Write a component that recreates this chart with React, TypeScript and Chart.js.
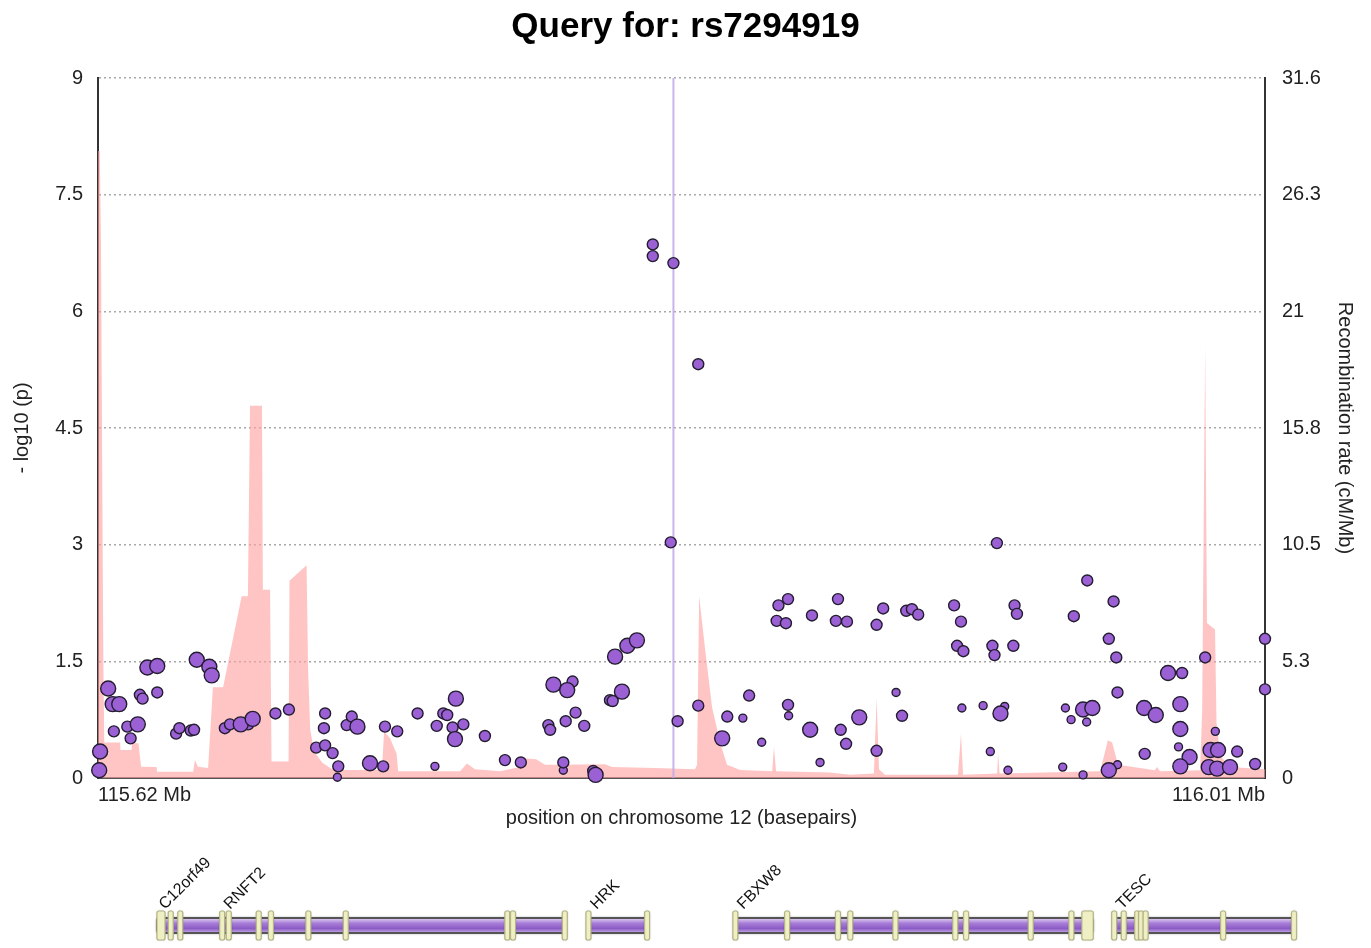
import React, { useEffect, useRef } from "react";
import { Chart, registerables } from "chart.js";

Chart.register(...registerables);

const FONT = "'Liberation Sans', Arial, sans-serif";

// ---- Axis / tick data ----
const xTickValues = [115.62, 116.01];
const xTickLabels = ["115.62 Mb", "116.01 Mb"];
const recombTickValues = [0, 5.2667, 10.5333, 15.8, 21.0667, 26.3333, 31.6];
const recombTickLabels = ["0", "5.3", "10.5", "15.8", "21", "26.3", "31.6"];
const querySnpName = "rs7294919";
const querySnpPos = 115.8123;

// ---- SNPs (position in Mb, -log10 p) grouped by marker size ----
const largeSnpPos = [
  115.6204, 115.6207, 115.6234, 115.6249, 115.6271, 115.6333, 115.6365, 115.6398, 115.653, 115.6572,
  115.658, 115.6677, 115.6717, 115.7067, 115.7109, 115.7393, 115.7396, 115.7722, 115.7768, 115.7863,
  115.7951, 115.7928, 115.7969, 115.8001, 115.8286, 115.858, 115.8744, 115.9216, 115.9492, 115.9523,
  115.9578, 115.9696, 115.9735, 115.9776, 115.9817, 115.9817, 115.9848, 115.9817, 115.9918, 115.9943,
  115.9912, 115.994, 115.9983,
];
const largeSnpLogP = [
  0.1, 0.34, 1.15, 0.95, 0.95, 0.69, 1.42, 1.44, 1.52, 1.43,
  1.32, 0.69, 0.76, 0.66, 0.19, 0.5, 1.02, 1.2, 1.13, 0.04,
  1.11, 1.56, 1.7, 1.77, 0.51, 0.62, 0.78, 0.83, 0.88, 0.9,
  0.1, 0.9, 0.81, 1.35, 0.95, 0.63, 0.27, 0.15, 0.36, 0.36,
  0.14, 0.12, 0.14,
];
const mediumSnpPos = [
  115.6253, 115.6298, 115.6309, 115.634, 115.6349, 115.6398, 115.6461, 115.6472, 115.651, 115.6521,
  115.6624, 115.6641, 115.6702, 115.6793, 115.6838, 115.6959, 115.6955, 115.6929, 115.6959, 115.6984,
  115.7003, 115.7031, 115.7048, 115.7153, 115.7159, 115.72, 115.7268, 115.7332, 115.7354, 115.7367,
  115.7385, 115.7421, 115.7493, 115.756, 115.7613, 115.7786, 115.7705, 115.7711, 115.7763, 115.7796,
  115.7825, 115.7755, 115.7855, 115.7911, 115.792, 115.8054, 115.8054, 115.8123, 115.8206, 115.8114,
  115.8137, 115.8206, 115.8303, 115.8376, 115.8474, 115.8506, 115.8468, 115.8499, 115.8506, 115.8586,
  115.8673, 115.8666, 115.8703, 115.8802, 115.8824, 115.8901, 115.892, 115.8941, 115.9061, 115.9084,
  115.9071, 115.9092, 115.9189, 115.9196, 115.9259, 115.9263, 115.9271, 115.9461, 115.9594, 115.9578,
  115.9603, 115.9607, 115.99, 115.9823, 116.01, 116.01, 115.9204, 115.9506, 115.8682, 115.87,
  115.8802, 115.8887, 115.9698, 116.0007, 116.0067,
];
const mediumSnpLogP = [
  0.6, 0.66, 0.51, 1.07, 1.02, 1.1, 0.57, 0.64, 0.61, 0.62,
  0.64, 0.69, 0.69, 0.83, 0.88, 0.83, 0.64, 0.39, 0.42, 0.32,
  0.15, 0.68, 0.79, 0.15, 0.66, 0.6, 0.83, 0.67, 0.83, 0.81,
  0.65, 0.69, 0.54, 0.23, 0.2, 1.24, 0.68, 0.62, 0.73, 0.84,
  0.67, 0.2, 0.09, 1.0, 0.99, 6.86, 6.71, 6.62, 5.32, 3.03,
  0.73, 0.93, 0.79, 1.06, 2.22, 2.3, 2.02, 1.99, 0.94, 2.09,
  2.3, 2.02, 2.01, 1.97, 2.18, 2.15, 2.17, 2.1, 2.22, 2.01,
  1.7, 1.63, 1.7, 1.58, 1.7, 2.22, 2.11, 2.08, 2.27, 1.79,
  1.55, 1.1, 1.55, 1.35, 1.79, 1.14, 3.02, 2.54, 0.62, 0.44,
  0.35, 0.8, 0.31, 0.34, 0.18,
];
const smallSnpPos = [
  115.7, 115.7326, 115.7755, 115.8355, 115.8418, 115.8508, 115.8613, 115.8867, 115.9087, 115.9158,
  115.923, 115.9182, 115.9241, 115.9424, 115.9492, 115.9433, 115.9452, 115.9504, 115.9607, 115.9811,
  115.9934,
];
const smallSnpLogP = [
  0.01, 0.15, 0.1, 0.77, 0.46, 0.8, 0.2, 1.1, 0.9, 0.93,
  0.92, 0.34, 0.1, 0.14, 0.04, 0.9, 0.75, 0.72, 0.17, 0.4,
  0.6,
];

// ---- Recombination rate (position in Mb, cM/Mb) ----
const recombPos = [
  115.62, 115.6206, 115.621, 115.6214, 115.6218, 115.6221, 115.6274, 115.6275, 115.6312, 115.6314, 115.6335,
  115.6344, 115.6396, 115.6397, 115.6518, 115.6524, 115.6534, 115.6568, 115.6584, 115.6618, 115.668,
  115.6701, 115.6708, 115.6748, 115.6751, 115.6775, 115.678, 115.6837, 115.684, 115.6897, 115.6902,
  115.6909, 115.6922, 115.6949, 115.6982, 115.7019, 115.7149, 115.7156, 115.7176, 115.7198, 115.7203,
  115.741, 115.7433, 115.746, 115.7544, 115.761, 115.763, 115.7664, 115.7694, 115.7744, 115.7894,
  115.7918, 115.8062, 115.8195, 115.8202, 115.8209, 115.8229, 115.8252, 115.8279, 115.8302, 115.8346,
  115.8453, 115.8459, 115.8466, 115.8646, 115.8713, 115.8793, 115.8802, 115.881, 115.883, 115.9074,
  115.9084, 115.9091, 115.9205, 115.9208, 115.9213, 115.9549, 115.9562, 115.9575, 115.9589, 115.9609,
  115.9732, 115.9739, 115.9749, 115.9883, 115.989, 115.99, 115.9906, 115.9933, 115.9938, 115.995,
  115.9983, 116.01,
];
const recombRate = [
  28.3, 28.3, 24, 14, 5, 1.6, 1.6, 1.26, 1.26, 1.57, 1.57,
  0.51, 0.5, 0.28, 0.28, 0.81, 0.51, 0.45, 4.1, 4.1, 8.2,
  8.2, 16.8, 16.8, 8.5, 8.5, 0.74, 0.74, 8.9, 9.6, 5.0,
  2.2, 1.2, 0.7, 0.4, 0.36, 0.36, 2.1, 1.8, 1.1, 0.3,
  0.3, 0.66, 0.4, 0.3, 0.5, 0.88, 0.85, 0.6, 0.6, 0.62,
  0.5, 0.45, 0.4, 0.6, 8.2, 5.8, 3.2, 1.6, 0.6, 0.36,
  0.3, 1.4, 0.3, 0.25, 0.15, 0.2, 3.6, 0.4, 0.15, 0.15,
  2.0, 0.15, 0.2, 1.1, 0.2, 0.3, 1.0, 1.7, 1.6, 0.6,
  0.35, 0.5, 0.3, 0.35, 3.0, 19.5, 7.0, 6.7, 2.5, 1.0,
  0.5, 0.4,
];

// ---- Genes (Mb) ----
const geneNames = ["C12orf49", "RNFT2", "HRK", "FBXW8", "TESC"];
const geneStarts = [115.6397, 115.6614, 115.7839, 115.833, 115.9596];
const geneEnds = [115.6634, 115.7761, 115.8035, 115.9525, 116.0197];
const geneExons: number[][][] = [
  [[115.6397, 115.6424], [115.6435, 115.6451], [115.6467, 115.6483]],
  [[115.6607, 115.6623], [115.6629, 115.6645], [115.6729, 115.6745], [115.677, 115.6786], [115.6895, 115.6911],
   [115.702, 115.7036], [115.756, 115.7576], [115.7579, 115.7595], [115.7752, 115.7768]],
  [[115.7831, 115.7847], [115.8027, 115.8043]],
  [[115.8322, 115.8338], [115.8495, 115.8511], [115.8665, 115.8681], [115.8706, 115.8722], [115.8857, 115.8873],
   [115.9057, 115.9073], [115.9093, 115.9109], [115.9309, 115.9325], [115.9445, 115.9461], [115.9488, 115.9526]],
  [[115.9588, 115.9604], [115.962, 115.9636], [115.9665, 115.9681], [115.9678, 115.9694], [115.9693, 115.9709],
   [115.9952, 115.9968], [116.0189, 116.0205]],
];

function rr(ctx: CanvasRenderingContext2D, x: number, y: number, w: number, h: number, r: number) {
  const rad = Math.min(r, w / 2, h / 2);
  ctx.beginPath();
  ctx.moveTo(x + rad, y);
  ctx.lineTo(x + w - rad, y);
  ctx.quadraticCurveTo(x + w, y, x + w, y + rad);
  ctx.lineTo(x + w, y + h - rad);
  ctx.quadraticCurveTo(x + w, y + h, x + w - rad, y + h);
  ctx.lineTo(x + rad, y + h);
  ctx.quadraticCurveTo(x, y + h, x, y + h - rad);
  ctx.lineTo(x, y + rad);
  ctx.quadraticCurveTo(x, y, x + rad, y);
  ctx.closePath();
}

const geneTrackPlugin = {
  id: "geneTrack",
  afterDraw(chart: any) {
    const ctx: CanvasRenderingContext2D = chart.ctx;
    const xs = chart.scales.x;
    const H = chart.height;
    const barTop = H - 30;
    const barH = 15;
    const exTop = H - 37;
    const exH = 29;
    ctx.save();
    // bars
    geneNames.forEach((_, i) => {
      const x1 = xs.getPixelForValue(geneStarts[i]);
      const x2 = xs.getPixelForValue(geneEnds[i]);
      const g = ctx.createLinearGradient(0, barTop, 0, barTop + barH);
      g.addColorStop(0, "#E4D4F4");
      g.addColorStop(0.35, "#A77DD8");
      g.addColorStop(0.7, "#8C5CC6");
      g.addColorStop(1, "#C8ADE6");
      ctx.save();
      ctx.shadowColor = "rgba(0,0,0,0.6)";
      ctx.shadowBlur = 3;
      rr(ctx, x1, barTop, x2 - x1, barH, 3);
      ctx.fillStyle = g;
      ctx.fill();
      ctx.restore();
      rr(ctx, x1, barTop, x2 - x1, barH, 3);
      ctx.strokeStyle = "#555";
      ctx.lineWidth = 1.8;
      ctx.stroke();
    });
    // exons
    geneExons.forEach((list) => {
      list.forEach(([s, e]) => {
        const a = xs.getPixelForValue(s);
        const b = xs.getPixelForValue(e);
        const w = Math.max(5, b - a);
        const cx = (a + b) / 2;
        ctx.save();
        ctx.shadowColor = "rgba(0,0,0,0.35)";
        ctx.shadowBlur = 2;
        rr(ctx, cx - w / 2, exTop, w, exH, 2);
        ctx.fillStyle = "#EFEFC4";
        ctx.fill();
        ctx.restore();
        rr(ctx, cx - w / 2, exTop, w, exH, 2);
        ctx.strokeStyle = "#B4B484";
        ctx.lineWidth = 1.2;
        ctx.stroke();
      });
    });
    // labels
    ctx.fillStyle = "#111";
    ctx.font = `16px ${FONT}`;
    ctx.textAlign = "left";
    ctx.textBaseline = "alphabetic";
    geneNames.forEach((name, i) => {
      const x1 = xs.getPixelForValue(geneStarts[i]);
      ctx.save();
      ctx.translate(x1 + 8, exTop - 1);
      ctx.rotate(-Math.PI / 4);
      ctx.fillText(name, 0, 0);
      ctx.restore();
    });
    ctx.restore();
  },
};

const toXY = (xs: number[], ys: number[]) => xs.map((x, i) => ({ x, y: ys[i] }));

export default function App() {
  const ref = useRef<HTMLCanvasElement | null>(null);
  useEffect(() => {
    if (!ref.current) return;
    const tickFont = { family: FONT, size: 20 };
    const pointStyle = {
      type: "scatter" as const,
      pointBackgroundColor: "#9B60D4",
      pointBorderColor: "#231d30",
      pointBorderWidth: 1.4,
      showLine: false,
      clip: false as any,
      yAxisID: "y",
      order: 0,
    };
    const chart = new Chart(ref.current, {
      type: "scatter",
      data: {
        datasets: [
          { ...pointStyle, label: "large", data: toXY(largeSnpPos, largeSnpLogP), pointRadius: 7.5 },
          { ...pointStyle, label: "medium", data: toXY(mediumSnpPos, mediumSnpLogP), pointRadius: 5.5 },
          { ...pointStyle, label: "small", data: toXY(smallSnpPos, smallSnpLogP), pointRadius: 4 },
          {
            type: "line",
            label: querySnpName,
            data: [{ x: querySnpPos, y: 0 }, { x: querySnpPos, y: 9 }],
            borderColor: "rgba(196,170,232,0.9)",
            borderWidth: 2,
            pointRadius: 0,
            yAxisID: "y",
            order: 1,
          },
          {
            type: "line",
            label: "Recombination rate",
            data: toXY(recombPos, recombRate),
            yAxisID: "y2",
            fill: "origin",
            backgroundColor: "rgba(255,160,160,0.62)",
            borderWidth: 0,
            borderColor: "rgba(0,0,0,0)",
            pointRadius: 0,
            tension: 0,
            order: 2,
          },
        ] as any,
      },
      options: {
        animation: false,
        responsive: false,
        layout: { padding: { left: 0, right: 0, top: 0, bottom: 118 } },
        plugins: {
          legend: { display: false },
          tooltip: { enabled: false },
          title: {
            display: true,
            text: `Query for: ${querySnpName}`,
            font: { family: FONT, size: 35, weight: "bold" },
            color: "#000",
            padding: { top: 6, bottom: 30 },
          },
        },
        scales: {
          x: {
            type: "linear",
            min: 115.62,
            max: 116.01,
            afterBuildTicks: (s: any) => {
              s.ticks = xTickValues.map((v) => ({ value: v }));
            },
            afterFit: (s: any) => {
              s.height = 52;
            },
            ticks: {
              callback: (_v: any, i: number) => xTickLabels[i],
              align: "inner",
              padding: 5,
              font: tickFont,
              color: "#222",
              maxRotation: 0,
              autoSkip: false,
            },
            grid: { display: false, drawTicks: false },
            border: { display: true, color: "#555", width: 2 },
            title: {
              display: true,
              text: "position on chromosome 12 (basepairs)",
              font: tickFont,
              color: "#222",
              padding: 0,
            },
          },
          y: {
            type: "linear",
            position: "left",
            min: 0,
            max: 9,
            afterFit: (s: any) => {
              s.width = 98;
            },
            ticks: { stepSize: 1.5, padding: 15, font: tickFont, color: "#222" },
            grid: { color: "#a8a8a8", lineWidth: 1.5, drawTicks: false },
            border: { display: true, color: "#333", width: 2, dash: [2, 3] },
            title: {
              display: true,
              text: "- log10 (p)",
              font: tickFont,
              color: "#222",
              padding: { top: 10, bottom: 0 },
            },
          },
          y2: {
            type: "linear",
            position: "right",
            min: 0,
            max: 31.6,
            afterBuildTicks: (s: any) => {
              s.ticks = recombTickValues.map((v) => ({ value: v }));
            },
            afterFit: (s: any) => {
              s.width = 106;
            },
            ticks: {
              callback: (_v: any, i: number) => recombTickLabels[i],
              padding: 17,
              font: tickFont,
              color: "#222",
              autoSkip: false,
            },
            grid: { display: false, drawTicks: false },
            border: { display: true, color: "#333", width: 2 },
            title: {
              display: true,
              text: "Recombination rate (cM/Mb)",
              font: tickFont,
              color: "#222",
              padding: { top: 14, bottom: 0 },
            },
          },
        },
      } as any,
      plugins: [geneTrackPlugin],
    });
    return () => chart.destroy();
  }, []);

  return (
    <div style={{ position: "absolute", left: 0, top: 0, width: 1371, height: 948, background: "#fff" }}>
      <canvas ref={ref} width={1371} height={948} style={{ width: 1371, height: 948, display: "block" }} />
    </div>
  );
}
